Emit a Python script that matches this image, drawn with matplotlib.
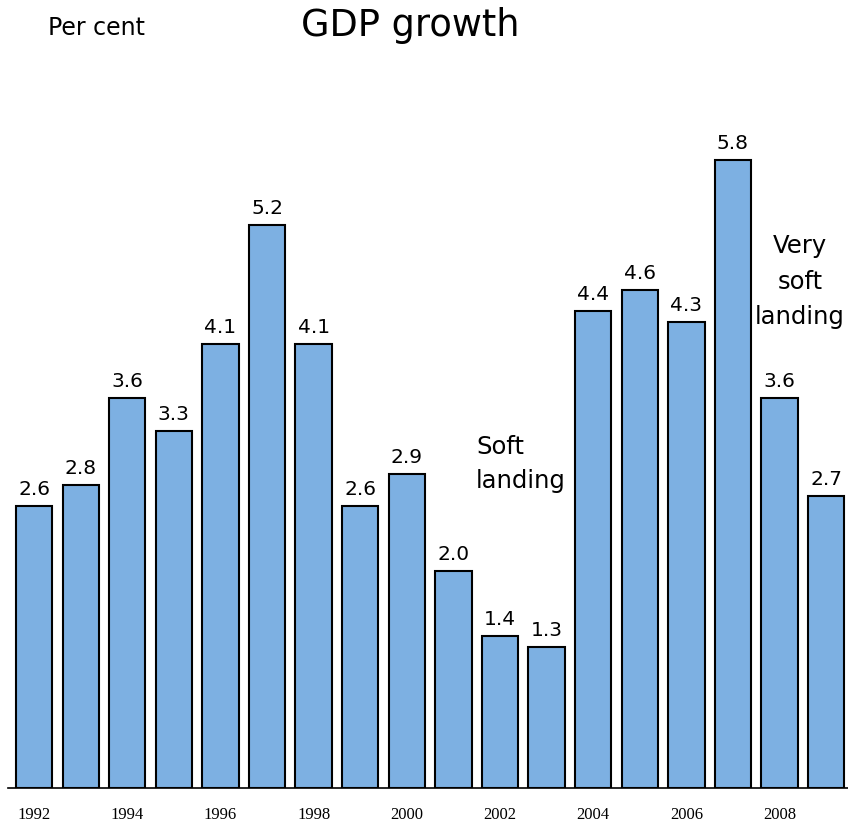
import matplotlib.pyplot as plt
import numpy as np

# annual GDP growth, per cent
years = list(range(1992, 2010))
growth = [2.6, 2.8, 3.6, 3.3, 4.1, 5.2, 4.1, 2.6, 2.9, 2.0,
          1.4, 1.3, 4.4, 4.6, 4.3, 5.8, 3.6, 2.7]
tick_years = [1992, 1994, 1996, 1998, 2000, 2002, 2004, 2006, 2008]

W, H = 848, 825
fig = plt.figure(figsize=(W / 100, H / 100), dpi=100)
# axes placed in pixel terms: baseline at y=788, from x=8 to the right edge
ax = fig.add_axes([8 / W, 1 - 788 / H, (W - 8) / W, (788 - 60) / H])

x = np.arange(len(years))
bars = ax.bar(x, growth, width=0.78, color='#7DB0E2',
              edgecolor='black', linewidth=1.5, zorder=2)

for xi, v in zip(x, growth):
    ax.annotate(f'{v:.1f}', xy=(xi, v), xytext=(0, 5), textcoords='offset points',
                ha='center', va='bottom', fontsize=14.5, family='DejaVu Sans')

ax.set_xlim(-0.56, len(years) - 0.53)
ax.set_ylim(0, 6.72)

ax.set_xticks([years.index(y) for y in tick_years])
ax.set_xticklabels([str(y) for y in tick_years], family='Liberation Serif', fontsize=12)
ax.tick_params(axis='x', length=0, pad=14)
ax.set_yticks([])

for side in ['top', 'right', 'left']:
    ax.spines[side].set_visible(False)
ax.spines['bottom'].set_linewidth(1.2)

fig.text(476 / W, 1 - 488 / H, 'Soft\nlanding', ha='left', va='baseline',
         fontsize=17.5, linespacing=1.55)
fig.text(800 / W, 1 - 324 / H, 'Very\nsoft\nlanding', ha='center', va='baseline',
         fontsize=17.5, linespacing=1.6, multialignment='center')

fig.text(48 / W, 1 - 28 / H, 'Per cent', ha='left', va='center', fontsize=17)
fig.text(410 / W, 1 - 25 / H, 'GDP growth', ha='center', va='center', fontsize=26.5)

fig.savefig('out.png', dpi=100)
